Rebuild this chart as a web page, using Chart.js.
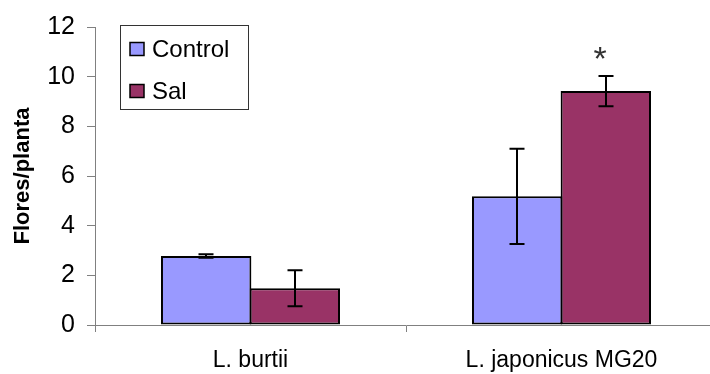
<!DOCTYPE html>
<html>
<head>
<meta charset="utf-8">
<script src="https://cdn.jsdelivr.net/npm/chart.js@4/dist/chart.umd.min.js"></script>
<style>
  html, body { margin: 0; padding: 0; background: #fff; overflow: hidden; }
  canvas { display: block; }
</style>
</head>
<body>
<canvas id="c" width="720" height="374" style="width:720px;height:374px"></canvas>
<script>
// ---- data ----
const categories = ['L. burtii', 'L. japonicus MG20'];
const controlValues = [2.78, 5.18];
const controlErrors = [0.07, 1.92];
const salValues = [1.48, 9.42];
const salErrors = [0.72, 0.61];
const salMarks = ['', '*'];
const yTicks = [0, 2, 4, 6, 8, 10, 12];

const FONT = "'Liberation Sans', Arial, sans-serif";

const errorBars = {
  id: 'errorBars',
  afterDatasetsDraw(chart) {
    const ctx = chart.ctx;
    const ys = chart.scales.y;
    chart.data.datasets.forEach((ds, i) => {
      const meta = chart.getDatasetMeta(i);
      meta.data.forEach((el, j) => {
        const v = ds.data[j], e = ds.errors[j];
        const yt = ys.getPixelForValue(v + e);
        const yb = ys.getPixelForValue(v - e);
        const x = Math.round(el.x);
        ctx.save();
        ctx.strokeStyle = '#000';
        ctx.lineWidth = 2;
        ctx.beginPath();
        ctx.moveTo(x, yt); ctx.lineTo(x, yb);
        ctx.moveTo(x - 7.5, yt); ctx.lineTo(x + 7.5, yt);
        ctx.moveTo(x - 7.5, yb); ctx.lineTo(x + 7.5, yb);
        ctx.stroke();
        if (ds.marks && ds.marks[j]) {
          ctx.fillStyle = '#333';
          ctx.font = "34px " + FONT;
          ctx.textAlign = 'center';
          ctx.textBaseline = 'middle';
          ctx.fillText(ds.marks[j], x - 6, yt - 15);
        }
        ctx.restore();
      });
    });
  }
};

const boxLegend = {
  id: 'boxLegend',
  afterDraw(chart, args, opts) {
    const ctx = chart.ctx;
    ctx.save();
    ctx.fillStyle = '#fff';
    ctx.fillRect(opts.x, opts.y, opts.w, opts.h);
    ctx.strokeStyle = '#333';
    ctx.lineWidth = 1;
    ctx.strokeRect(opts.x + 0.5, opts.y + 0.5, opts.w, opts.h);
    chart.data.datasets.forEach((ds, i) => {
      const cy = opts.y + opts.firstRow + i * opts.rowGap;
      ctx.fillStyle = ds.backgroundColor;
      ctx.fillRect(opts.x + 10, cy - 6.5, 14, 13);
      ctx.strokeStyle = '#000';
      ctx.lineWidth = 1.5;
      ctx.strokeRect(opts.x + 10, cy - 6.5, 14, 13);
      ctx.fillStyle = '#000';
      ctx.font = "24px " + FONT;
      ctx.textAlign = 'left';
      ctx.textBaseline = 'middle';
      ctx.fillText(ds.label, opts.x + 32, cy + 1);
    });
    ctx.restore();
  }
};

new Chart(document.getElementById('c'), {
  type: 'bar',
  data: {
    labels: categories,
    datasets: [
      { label: 'Control', data: controlValues, errors: controlErrors,
        backgroundColor: '#9999FF', borderColor: '#000', borderWidth: 2, borderSkipped: false },
      { label: 'Sal', data: salValues, errors: salErrors, marks: salMarks,
        backgroundColor: '#993366', borderColor: '#000', borderWidth: 2, borderSkipped: false }
    ]
  },
  options: {
    responsive: false,
    animation: false,
    devicePixelRatio: 1,
    layout: { padding: { top: 26, right: 3, bottom: 0, left: 0 } },
    datasets: { bar: { barPercentage: 1.02, categoryPercentage: 0.57 } },
    plugins: {
      legend: { display: false },
      tooltip: { enabled: false },
      boxLegend: { x: 120, y: 25, w: 128, h: 84, firstRow: 24, rowGap: 42 }
    },
    scales: {
      x: {
        grid: { display: true, offset: true, drawOnChartArea: false, drawTicks: true,
                tickLength: 7, color: '#808080' },
        border: { display: true, color: '#808080', width: 1 },
        ticks: { color: '#000', font: { family: FONT, size: 23 }, padding: 15, maxRotation: 0 },
        afterFit(s) { s.height = 49; }
      },
      y: {
        min: 0, max: 12,
        afterBuildTicks(s) { s.ticks = yTicks.map(v => ({ value: v })); },
        grid: { display: true, drawOnChartArea: false, drawTicks: true, tickLength: 8, color: '#808080' },
        border: { display: true, color: '#808080', width: 1 },
        ticks: { color: '#000', font: { family: FONT, size: 25 }, padding: 12 },
        title: { display: true, text: 'Flores/planta', color: '#000',
                 font: { family: FONT, size: 22, weight: 'bold' }, padding: { top: 10, bottom: 0 } },
        afterFit(s) { s.width = 95; }
      }
    }
  },
  plugins: [errorBars, boxLegend]
});
</script>
</body>
</html>
